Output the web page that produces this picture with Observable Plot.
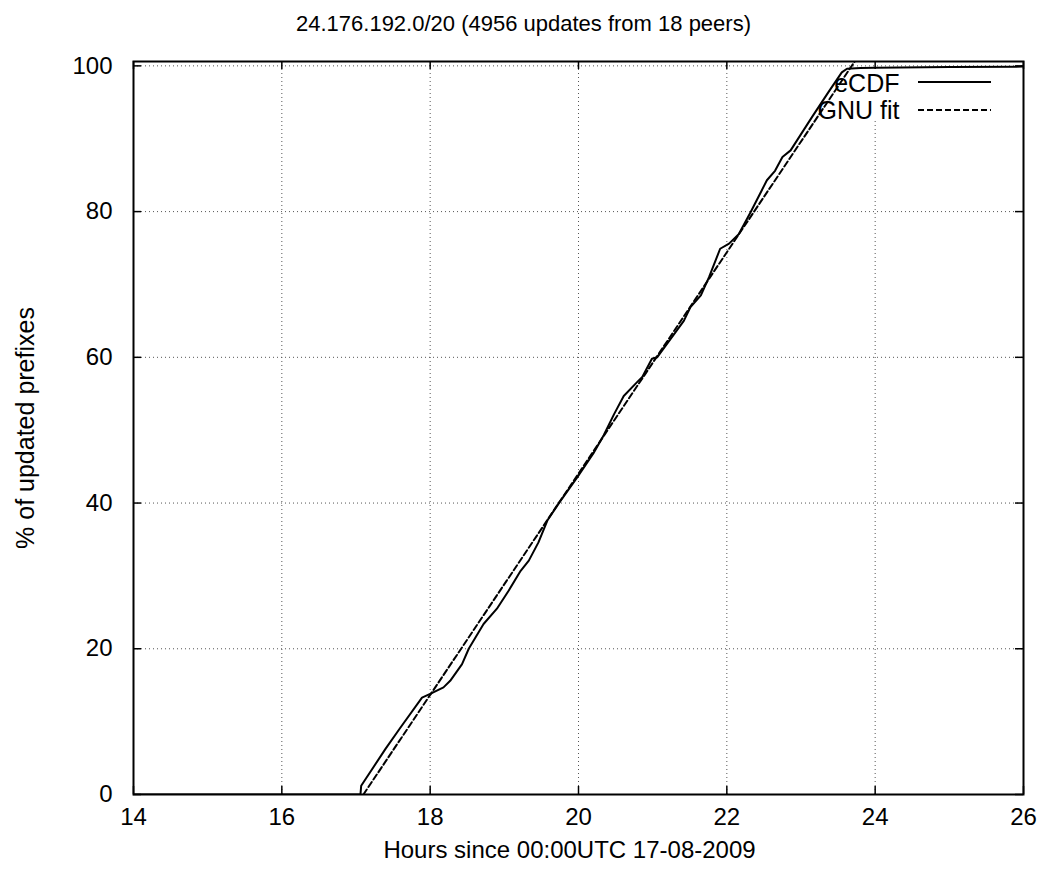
<!DOCTYPE html>
<html>
<head>
<meta charset="utf-8">
<script src="https://cdn.jsdelivr.net/npm/d3@7"></script>
<script src="https://cdn.jsdelivr.net/npm/@observablehq/plot@0.6"></script>
<style>
  body { margin: 0; background: #fff; }
  #wrap { position: relative; width: 1047px; height: 875px; font-family: "Liberation Sans", Arial, sans-serif; }
  #title { height: 40px; box-sizing: border-box; padding-top: 13px; line-height: 22px; font-size: 22px; text-align: center; color: #000; }
  #legend { position: absolute; left: 0; top: 0; pointer-events: none; }
</style>
</head>
<body>
<div id="wrap">
  <div id="title">24.176.192.0/20 (4956 updates from 18 peers)</div>
  <div id="chart"></div>
</div>
<script>
// ---- data ----
const titleText = "24.176.192.0/20 (4956 updates from 18 peers)";
const xLabel = "Hours since 00:00UTC 17-08-2009";
const yLabel = "% of updated prefixes";
const xTicks = [14, 16, 18, 20, 22, 24, 26];
const yTicks = [0, 20, 40, 60, 80, 100];
const seriesNames = ["eCDF", "GNU fit"];

const ecdfHours = [14, 17.06, 17.07, 17.40, 17.60, 17.89, 18.00, 18.18, 18.27, 18.43, 18.52, 18.72, 18.90, 19.06, 19.22, 19.33, 19.46, 19.58, 19.75, 19.98, 20.20, 20.34, 20.48, 20.61, 20.79, 20.86, 20.99, 21.06, 21.42, 21.51, 21.65, 21.76, 21.91, 22.03, 22.16, 22.32, 22.54, 22.65, 22.75, 22.86, 23.15, 23.37, 23.55, 23.62, 23.80, 24.00, 25.00, 26.00];
const ecdfPct   = [0, 0, 1.2, 6.3, 9.2, 13.3, 13.8, 14.7, 15.6, 17.9, 20.0, 23.4, 25.5, 28.0, 30.7, 32.1, 34.6, 37.6, 40.2, 43.5, 46.8, 49.3, 52.2, 54.7, 56.6, 57.3, 59.8, 60.0, 65.0, 66.9, 68.5, 71.0, 74.9, 75.6, 76.9, 79.9, 84.3, 85.6, 87.5, 88.4, 93.0, 96.4, 99.1, 99.6, 99.7, 99.75, 99.85, 99.9];

const fitHours = [17.10, 23.75];
const fitPct   = [0, 101];

const yMax = 100.6;

// ---- build ----
const ecdf = ecdfHours.map((h, i) => ({h, p: ecdfPct[i]}));
const fit = fitHours.map((h, i) => ({h, p: fitPct[i]}));

const W = 1047, H = 835;
const mL = 133, mR = 24, mT = 21, mB = 81;
const frameW = W - mL - mR, frameH = H - mT - mB;
const font = "Liberation Sans, Arial, sans-serif";

// legend box (grid lines are not drawn through it), in data units
const legendX0 = 23.3, legendYBottom = 92.6;
const gridXSegs = xTicks.filter(t => t > 14 && t < 26).map(t => ({x: t, y2: t >= legendX0 ? legendYBottom : yMax}));
const gridYSegs = yTicks.filter(t => t > 0 && t < yMax);

const chart = Plot.plot({
  width: W, height: H,
  marginLeft: mL, marginRight: mR, marginTop: mT, marginBottom: mB,
  style: {fontFamily: font, fontSize: "22px", color: "#000", background: "#fff"},
  x: {domain: [14, 26], axis: null},
  y: {domain: [0, yMax], axis: null},
  marks: [
    // grid
    Plot.ruleX(gridXSegs, {x: "x", y1: 0, y2: "y2", stroke: "#555", strokeWidth: 1, strokeDasharray: "1,3"}),
    Plot.ruleY(gridYSegs, {y: d => d, stroke: "#555", strokeWidth: 1, strokeDasharray: "1,3"}),
    // inward ticks (bottom, top, left, right)
    Plot.tickX(xTicks, {x: d => d, insetTop: frameH - 8, stroke: "#000", strokeWidth: 1.5}),
    Plot.tickX(xTicks, {x: d => d, insetBottom: frameH - 8, stroke: "#000", strokeWidth: 1.5}),
    Plot.tickY(yTicks, {y: d => d, insetRight: frameW - 8, stroke: "#000", strokeWidth: 1.5}),
    Plot.tickY(yTicks, {y: d => d, insetLeft: frameW - 8, stroke: "#000", strokeWidth: 1.5}),
    // series
    Plot.line(fit, {x: "h", y: "p", stroke: "#000", strokeWidth: 2, strokeDasharray: "6,3", clip: true}),
    Plot.line(ecdf, {x: "h", y: "p", stroke: "#000", strokeWidth: 2, clip: true}),
    // frame
    Plot.frame({stroke: "#000", strokeWidth: 2}),
    // tick labels
    Plot.text(xTicks, {x: d => d, text: d => String(d), frameAnchor: "bottom", dy: 23, lineAnchor: "middle", textAnchor: "middle", fontSize: 24, fill: "#000"}),
    Plot.text(yTicks, {y: d => d, text: d => String(d), frameAnchor: "left", dx: -21, textAnchor: "end", lineAnchor: "middle", fontSize: 24, fill: "#000"}),
    // axis labels
    Plot.text([xLabel], {text: d => d, frameAnchor: "bottom", dy: 56, dx: -9, lineAnchor: "middle", textAnchor: "middle", fontSize: 24, fill: "#000"}),
    Plot.text([yLabel], {text: d => d, frameAnchor: "left", dx: -108, rotate: -90, textAnchor: "middle", lineAnchor: "middle", fontSize: 25, fill: "#000"}),
    // legend labels
    Plot.text([seriesNames[0]], {text: d => d, frameAnchor: "top-right", dx: -124, dy: 22, textAnchor: "end", lineAnchor: "middle", fontSize: 25, fill: "#000"}),
    Plot.text([seriesNames[1]], {text: d => d, frameAnchor: "top-right", dx: -124, dy: 49, textAnchor: "end", lineAnchor: "middle", fontSize: 25, fill: "#000"})
  ]
});
document.getElementById("chart").appendChild(chart);

// legend line samples (overlay)
const lg = d3.select("#wrap").append("svg").attr("id", "legend").attr("width", W).attr("height", 200);
lg.append("line").attr("x1", 918).attr("x2", 991).attr("y1", 82).attr("y2", 82).attr("stroke", "#000").attr("stroke-width", 2);
lg.append("line").attr("x1", 918).attr("x2", 991).attr("y1", 110).attr("y2", 110).attr("stroke", "#000").attr("stroke-width", 2).attr("stroke-dasharray", "6,3");
</script>
</body>
</html>
